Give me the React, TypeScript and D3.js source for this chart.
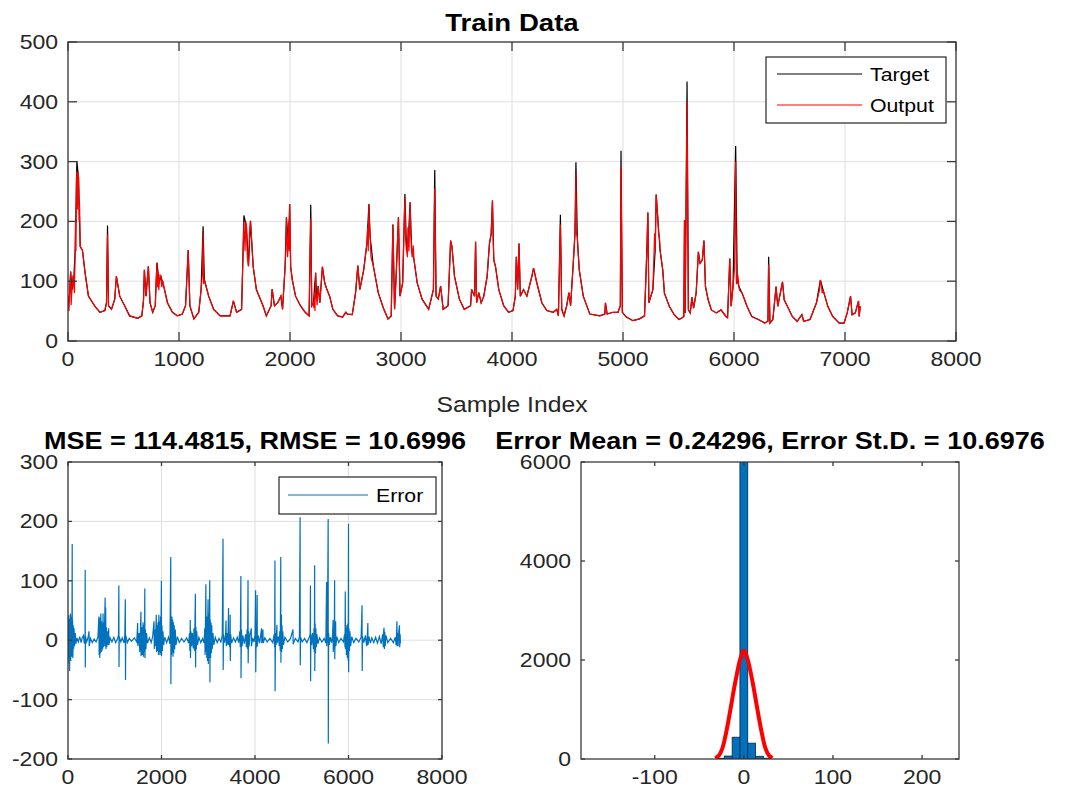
import * as d3 from 'd3'

type Pt = [number, number]

// target (black): [sample index, value]
const target: Pt[] = [
  [0, 53], [15, 81], [24, 116], [36, 86], [50, 97], [65, 152], [80, 301], [95, 273], [110, 158], [130, 152],
  [154, 114], [184, 75], [243, 58], [288, 48], [332, 51], [347, 64], [356, 193], [365, 59], [392, 53], [421, 70],
  [436, 108], [466, 75], [510, 59], [555, 42], [629, 38], [665, 42], [680, 67], [688, 119], [703, 75], [724, 125],
  [739, 64], [763, 48], [786, 59], [801, 131], [822, 97], [837, 108], [866, 89], [896, 64], [941, 48], [985, 42],
  [1030, 45], [1059, 59], [1083, 152], [1098, 59], [1134, 37], [1178, 48], [1199, 86], [1217, 192], [1228, 103], [1267, 75],
  [1312, 53], [1371, 42], [1460, 42], [1490, 67], [1519, 48], [1564, 53], [1585, 210], [1608, 190], [1626, 125], [1644, 201],
  [1668, 125], [1697, 86], [1757, 59], [1787, 42], [1830, 59], [1839, 87], [1860, 59], [1889, 64], [1918, 75], [1933, 53],
  [1956, 125], [1968, 207], [1985, 163], [1997, 229], [2006, 125], [2020, 103], [2050, 75], [2094, 59], [2137, 48], [2172, 42],
  [2187, 228], [2196, 59], [2211, 64], [2231, 114], [2240, 70], [2254, 92], [2269, 64], [2292, 124], [2313, 97], [2333, 86],
  [2357, 75], [2386, 53], [2430, 42], [2474, 40], [2503, 48], [2518, 45], [2561, 44], [2591, 81], [2611, 126], [2629, 86],
  [2664, 119], [2693, 163], [2711, 229], [2722, 174], [2751, 125], [2795, 81], [2839, 56], [2883, 37], [2912, 42], [2927, 195],
  [2942, 53], [2956, 108], [2977, 207], [2991, 75], [3015, 97], [3035, 246], [3050, 152], [3067, 174], [3082, 232], [3096, 152],
  [3117, 136], [3146, 97], [3190, 70], [3249, 53], [3292, 86], [3304, 286], [3316, 75], [3336, 70], [3357, 92], [3380, 53],
  [3424, 59], [3447, 168], [3459, 158], [3482, 108], [3526, 70], [3570, 53], [3627, 59], [3636, 86], [3663, 75], [3672, 166],
  [3681, 64], [3701, 81], [3722, 64], [3746, 75], [3776, 108], [3797, 163], [3812, 179], [3824, 235], [3836, 136], [3851, 125],
  [3881, 86], [3925, 59], [3970, 48], [4009, 51], [4030, 75], [4039, 141], [4051, 86], [4063, 163], [4075, 75], [4104, 86],
  [4134, 75], [4179, 108], [4194, 122], [4224, 97], [4269, 64], [4313, 51], [4373, 48], [4403, 53], [4418, 42], [4436, 211],
  [4448, 53], [4469, 42], [4493, 59], [4513, 81], [4528, 59], [4552, 130], [4567, 179], [4576, 299], [4588, 174], [4606, 119],
  [4642, 75], [4701, 45], [4791, 42], [4836, 45], [4842, 64], [4857, 45], [4910, 48], [4955, 48], [4976, 59], [4982, 318],
  [4994, 48], [5030, 40], [5090, 34], [5149, 37], [5194, 42], [5215, 152], [5224, 215], [5233, 64], [5269, 86], [5290, 152],
  [5299, 245], [5313, 207], [5334, 152], [5358, 119], [5373, 80], [5417, 58], [5461, 44], [5504, 36], [5534, 39], [5548, 41],
  [5554, 202], [5560, 47], [5577, 434], [5589, 52], [5606, 47], [5621, 73], [5636, 55], [5659, 80], [5679, 149], [5694, 130],
  [5714, 135], [5729, 168], [5743, 91], [5767, 69], [5796, 52], [5840, 47], [5883, 52], [5927, 41], [5942, 39], [5962, 138],
  [5974, 58], [5991, 91], [6015, 326], [6029, 102], [6044, 91], [6073, 80], [6117, 58], [6160, 41], [6219, 36], [6277, 30],
  [6306, 33], [6312, 141], [6324, 30], [6350, 36], [6379, 91], [6394, 58], [6437, 99], [6452, 69], [6481, 58], [6525, 41],
  [6569, 33], [6612, 44], [6627, 33], [6685, 36], [6743, 64], [6778, 102], [6802, 86], [6845, 58], [6889, 41], [6948, 30],
  [6991, 30], [7020, 47], [7050, 75], [7064, 44], [7093, 47], [7122, 67], [7128, 41], [7137, 58],
]

// where the red output falls short of a target spike
const outputPeaks: Pt[] = [
  [80, 284], [356, 178], [1217, 180], [1585, 200], [2187, 205], [3035, 240], [3304, 255], [4436, 195],
  [4576, 280], [4982, 290], [5577, 400], [6015, 300], [6312, 128],
]

// extra wiggle of the output in the busy stretches
const outputFuzz: Pt[] = [
  [4, 75], [9, 50], [18, 100], [28, 60], [44, 110], [58, 80], [68, 200], [72, 150], [76, 270], [85, 220], [90, 280], [100, 200], [104, 230],
  [806, 90], [812, 115], [818, 85], [828, 110], [845, 90], [855, 100],
  [1210, 110], [1222, 95],
  [1595, 150], [1602, 200], [1615, 140], [1635, 180],
  [1962, 150], [1972, 180], [1978, 140], [1990, 200], [1994, 150], [2002, 180],
  [2215, 55], [2220, 80], [2225, 50], [2235, 75], [2245, 60], [2250, 85],
  [2700, 190], [2705, 150], [2715, 200], [2730, 140],
  [3042, 170], [3058, 140], [3062, 190], [3072, 150], [3088, 180], [3100, 140], [3110, 160],
  [3818, 200], [3830, 170], [3842, 130],
  [4558, 150], [4570, 200], [4580, 180], [4595, 150],
  [5285, 180], [5305, 230], [5320, 180], [5330, 170],
  [5995, 100], [6005, 120], [6022, 95], [6035, 110], [6050, 85],
  [6770, 85], [6785, 95], [6795, 80],
]

// error trace, bottom left
const errors: Pt[] = [
  [0, 5], [6, 38], [10, -30], [16, 42], [22, -40], [28, 30], [34, -52], [40, 36], [46, -25], [52, 45], [58, -35], [64, 28], [70, -20],
  [76, 40], [82, -28], [90, 162], [92, -22], [98, 35], [104, -30], [112, 25], [120, -15], [130, 20], [140, -10], [155, 12], [170, -6],
  [190, 4], [220, -3], [250, 6], [280, -4], [300, 3], [330, 8], [350, -6], [365, 10], [368, 118], [370, -46], [374, 6], [400, -3],
  [430, 5], [450, 15], [453, -10], [480, 3], [520, -4], [560, 2], [600, -3], [640, 5], [660, 40], [666, -25], [672, 30], [680, -30],
  [688, 38], [696, -22], [702, 45], [710, -20], [718, 32], [726, -18], [734, 28], [742, -15], [750, 45], [756, -12], [764, 30],
  [772, -10], [795, 72], [800, -10], [806, 55], [812, -15], [820, 22], [830, -12], [845, 15], [860, -8], [870, 20], [875, -8],
  [900, 4], [940, -3], [980, 5], [1020, -4], [1060, 3], [1080, 8], [1088, 92], [1091, -45], [1096, 6], [1130, -3], [1160, 4],
  [1200, -5], [1215, 10], [1226, 69], [1230, -67], [1236, 8], [1270, -4], [1310, 3], [1360, -2], [1420, 4], [1470, -3], [1490, 29],
  [1495, -10], [1520, 12], [1535, -20], [1550, 18], [1560, 48], [1563, -27], [1575, 22], [1590, -25], [1605, 30], [1615, -28],
  [1625, 26], [1635, -20], [1643, 87], [1646, -30], [1655, 18], [1668, -15], [1680, 12], [1700, -5], [1740, 4], [1780, -4],
  [1810, 6], [1840, 32], [1846, -15], [1855, 18], [1868, -10], [1880, 20], [1888, 43], [1893, -20], [1905, 25], [1915, -18],
  [1925, 30], [1935, -25], [1943, 43], [1950, -20], [1960, 32], [1968, -25], [1978, 40], [1985, -22], [1998, 100], [2001, -27],
  [2010, 25], [2020, -18], [2032, 15], [2045, -8], [2070, 5], [2110, -4], [2150, 5], [2180, -6], [2198, 140], [2201, -74],
  [2208, 20], [2215, -25], [2222, 40], [2230, -20], [2238, 35], [2246, -28], [2254, 30], [2262, -22], [2272, 25], [2282, -15],
  [2295, 18], [2310, -8], [2340, 6], [2380, -4], [2430, 3], [2480, -3], [2540, 4], [2580, -5], [2600, 12], [2608, -18],
  [2615, 34], [2620, -30], [2630, 15], [2645, -10], [2660, 12], [2680, -14], [2695, 20], [2705, -18], [2715, 28], [2725, 78],
  [2729, -46], [2736, 22], [2745, -15], [2755, 15], [2770, -8], [2800, 5], [2840, -4], [2880, 3], [2910, -5], [2925, 20],
  [2932, -25], [2940, 30], [2949, 94], [2953, -20], [2960, 35], [2968, -30], [2976, 40], [2984, -35], [2990, 38], [2996, 69],
  [3002, -40], [3010, 45], [3018, -30], [3025, 40], [3032, 101], [3036, -71], [3042, 35], [3050, -30], [3058, 30], [3066, -22],
  [3075, 25], [3085, -15], [3100, 12], [3120, -8], [3150, 5], [3190, -4], [3230, 3], [3270, -3], [3300, 8], [3316, 171],
  [3319, -50], [3326, 10], [3350, -4], [3370, 8], [3380, 33], [3386, -10], [3400, 12], [3420, -8], [3434, 54], [3437, -8],
  [3450, 10], [3460, -12], [3469, 43], [3472, -35], [3480, 10], [3500, -5], [3540, 4], [3580, -3], [3620, 5], [3650, -4],
  [3675, 15], [3685, -12], [3698, 108], [3701, -64], [3710, 18], [3725, -10], [3740, 8], [3770, -6], [3800, 10], [3815, -12],
  [3830, 18], [3840, -15], [3851, 101], [3854, -39], [3862, 15], [3875, -10], [3890, 8], [3920, 20], [3925, -10], [3950, 4],
  [3980, -3], [4000, 10], [4013, 84], [4016, -54], [4025, 15], [4035, -12], [4047, 76], [4050, -10], [4070, 8], [4100, -5],
  [4140, 20], [4145, -5], [4170, 18], [4175, -5], [4210, 4], [4260, -3], [4320, 3], [4380, -4], [4410, 10], [4420, -12],
  [4427, 134], [4430, -86], [4438, 12], [4450, -8], [4469, 26], [4472, -5], [4500, 6], [4520, -10], [4530, 15], [4540, -18],
  [4551, 140], [4554, -38], [4560, 25], [4566, 43], [4570, -20], [4578, 25], [4586, -15], [4595, 15], [4610, -8], [4640, 5],
  [4700, -3], [4760, 3], [4813, 18], [4816, -7], [4860, 3], [4920, -3], [4950, 6], [4965, 207], [4968, -42], [4975, 5],
  [5010, -3], [5060, 3], [5110, -4], [5160, 5], [5180, 10], [5186, 92], [5189, -69], [5195, 10], [5210, -8], [5230, 12],
  [5250, -15], [5262, 20], [5270, -20], [5276, 126], [5279, -52], [5286, 28], [5294, -22], [5302, 20], [5312, -12], [5325, 10],
  [5345, -6], [5380, 4], [5430, -3], [5480, 3], [5515, -5], [5531, 98], [5534, -10], [5550, 8], [5565, 204], [5568, -174],
  [5575, 12], [5590, -8], [5610, 5], [5640, -4], [5660, 10], [5670, 34], [5674, -20], [5685, 12], [5695, -15], [5703, 101],
  [5706, -32], [5715, 15], [5725, 32], [5730, -10], [5750, 6], [5790, -4], [5840, 3], [5890, -3], [5915, 10], [5925, -12],
  [5931, 82], [5935, -15], [5945, 20], [5955, -25], [5965, 25], [5975, -30], [5985, 28], [5993, -35], [6000, 196], [6003, -54],
  [6010, 20], [6020, -18], [6030, 15], [6045, -10], [6070, 6], [6110, -4], [6160, 3], [6220, -3], [6270, 5], [6290, 59],
  [6293, -52], [6300, 6], [6330, -4], [6360, 8], [6390, -10], [6405, 12], [6414, 29], [6418, -8], [6440, 6], [6470, -5],
  [6500, 4], [6540, -4], [6580, 5], [6620, -5], [6660, 6], [6700, -6], [6730, 10], [6745, -12], [6752, 15], [6760, 21],
  [6768, -15], [6776, 14], [6785, -10], [6800, 8], [6840, -4], [6900, 3], [6960, -4], [7000, 5], [7020, -8], [7036, 32],
  [7040, -10], [7050, 12], [7060, -10], [7075, 15], [7090, 25], [7095, -12], [7105, 10], [7110, -5],
]

// histogram of the error, bottom right
const binEdges = [-30.6, -21.9, -13.1, -4.4, 4.4, 13.1, 21.9, 30.6]
const binCounts = [15, 60, 440, 6300, 320, 55, 15]

// fitted normal curve, read as points
const fitX = [-32, -28, -24, -20, -16, -12, -8, -4, 0, 4, 8, 12, 16, 20, 24, 28, 32]
const fitY = [15, 70, 220, 520, 900, 1320, 1700, 2020, 2190, 2030, 1720, 1340, 920, 540, 230, 75, 18]

const topXTicks = [0, 1000, 2000, 3000, 4000, 5000, 6000, 7000, 8000]
const topYTicks = [0, 100, 200, 300, 400, 500]
const errXTicks = [0, 2000, 4000, 6000, 8000]
const errYTicks = [-200, -100, 0, 100, 200, 300]
const histXTicks = [-100, 0, 100, 200]
const histYTicks = [0, 2000, 4000, 6000]

const FONT = 'Liberation Sans, Arial, Helvetica, sans-serif'
const SX = 1.15 // glyphs in the figure are a bit wider than the font

const peakMap = new Map(outputPeaks)
const output: Pt[] = target
  .map(([i, v]) => [i, peakMap.get(i) ?? v] as Pt)
  .concat(outputFuzz)
  .sort((a, b) => a[0] - b[0])

function T({ x, y, anchor = 'middle', size = 20, bold = false, fill = '#262626', children }: any) {
  return (
    <text transform={`translate(${x},${y}) scale(${SX},1)`} textAnchor={anchor} fontSize={size}
      fontWeight={bold ? 'bold' : 'normal'} fill={fill} fontFamily={FONT}>{children}</text>
  )
}

function Axes({ id, x, y, xTicks, yTicks, grid, tick, children }: any) {
  const [x0, x1] = x.range()
  const [y0, y1] = y.range()
  return (
    <g>
      <defs>
        <clipPath id={id}><rect x={x0} y={y1} width={x1 - x0} height={y0 - y1} /></clipPath>
      </defs>
      <rect x={x0} y={y1} width={x1 - x0} height={y0 - y1} fill="#fff" />
      {grid && xTicks.map((t: number) => (
        <line key={'gx' + t} x1={x(t)} x2={x(t)} y1={y1} y2={y0} stroke="#dfdfdf" />
      ))}
      {grid && yTicks.map((t: number) => (
        <line key={'gy' + t} x1={x0} x2={x1} y1={y(t)} y2={y(t)} stroke="#dfdfdf" />
      ))}
      <g clipPath={`url(#${id})`}>{children}</g>
      <rect x={x0} y={y1} width={x1 - x0} height={y0 - y1} fill="none" stroke="#3a3a3a" strokeWidth={1.3} />
      {xTicks.map((t: number) => (
        <g key={'tx' + t} stroke="#3a3a3a" strokeWidth={1.3}>
          <line x1={x(t)} x2={x(t)} y1={y0} y2={y0 - tick} />
          <line x1={x(t)} x2={x(t)} y1={y1} y2={y1 + tick} />
        </g>
      ))}
      {yTicks.map((t: number) => (
        <g key={'ty' + t} stroke="#3a3a3a" strokeWidth={1.3}>
          <line x1={x0} x2={x0 + tick} y1={y(t)} y2={y(t)} />
          <line x1={x1} x2={x1 - tick} y1={y(t)} y2={y(t)} />
        </g>
      ))}
      {xTicks.map((t: number) => (
        <T key={'lx' + t} x={x(t)} y={y0 + 25}>{t}</T>
      ))}
      {yTicks.map((t: number) => (
        <T key={'ly' + t} x={x0 - 10} y={y(t) + 7} anchor="end">{t}</T>
      ))}
    </g>
  )
}

export default function App() {
  const xTop = d3.scaleLinear().domain([0, 8000]).range([68, 956])
  const yTop = d3.scaleLinear().domain([0, 500]).range([341, 42])
  const xErr = d3.scaleLinear().domain([0, 8000]).range([68, 442])
  const yErr = d3.scaleLinear().domain([-200, 300]).range([759, 462])
  const xHist = d3.scaleLinear().domain([-182.7, 241.4]).range([581, 959])
  const yHist = d3.scaleLinear().domain([0, 6000]).range([759, 462])

  const lineTop = d3.line<Pt>().x(d => xTop(d[0])).y(d => yTop(d[1]))
  const lineErr = d3.line<Pt>().x(d => xErr(d[0])).y(d => yErr(d[1]))
  const fitLine = d3.line<number>()
    .x((_, i) => xHist(fitX[i]))
    .y(d => yHist(d))
    .curve(d3.curveCatmullRom)

  return (
    <svg width={1067} height={798} style={{ position: 'absolute', left: 0, top: 0, background: '#fff' }}>
      <rect width={1067} height={798} fill="#fff" />

      <Axes id="cTop" x={xTop} y={yTop} xTicks={topXTicks} yTicks={topYTicks} grid tick={9}>
        <path d={lineTop(target) ?? ''} fill="none" stroke="#000" strokeWidth={1.2} />
        <path d={lineTop(output) ?? ''} fill="none" stroke="#ff0000" strokeWidth={1.2} />
      </Axes>
      <T x={512} y={31} size={24} bold fill="#000">Train Data</T>
      <T x={512} y={412} size={21.5}>Sample Index</T>
      <g>
        <rect x={766} y={57} width={180} height={66} fill="#fff" stroke="#262626" strokeWidth={1.2} />
        <line x1={777} x2={862} y1={74} y2={74} stroke="#000" />
        <line x1={777} x2={862} y1={105} y2={105} stroke="#ff0000" />
        <T x={870} y={81} size={18.5} anchor="start" fill="#000">Target</T>
        <T x={870} y={112} size={18.5} anchor="start" fill="#000">Output</T>
      </g>

      <Axes id="cErr" x={xErr} y={yErr} xTicks={errXTicks} yTicks={errYTicks} grid tick={4}>
        <path d={lineErr(errors) ?? ''} fill="none" stroke="#0072BD" strokeWidth={1.2} />
      </Axes>
      <g>
        <rect x={279} y={477} width={157} height={37} fill="#fff" stroke="#262626" strokeWidth={1.2} />
        <line x1={288} x2={368} y1={495} y2={495} stroke="#0072BD" />
        <T x={376} y={502} size={18.5} anchor="start" fill="#000">Error</T>
      </g>
      <T x={255} y={449} size={23.5} bold fill="#000">MSE = 114.4815, RMSE = 10.6996</T>

      <Axes id="cHist" x={xHist} y={yHist} xTicks={histXTicks} yTicks={histYTicks} grid={false} tick={4}>
        {binCounts.map((c, i) => (
          <rect key={i} x={xHist(binEdges[i])} width={xHist(binEdges[i + 1]) - xHist(binEdges[i])}
            y={yHist(c)} height={yHist(0) - yHist(c)} fill="#0072BD" stroke="#0b2540" strokeWidth={0.8} />
        ))}
        <path d={fitLine(fitY) ?? ''} fill="none" stroke="#ff0000" strokeWidth={4} />
      </Axes>
      <T x={770} y={449} size={23.5} bold fill="#000">Error Mean = 0.24296, Error St.D. = 10.6976</T>
    </svg>
  )
}
